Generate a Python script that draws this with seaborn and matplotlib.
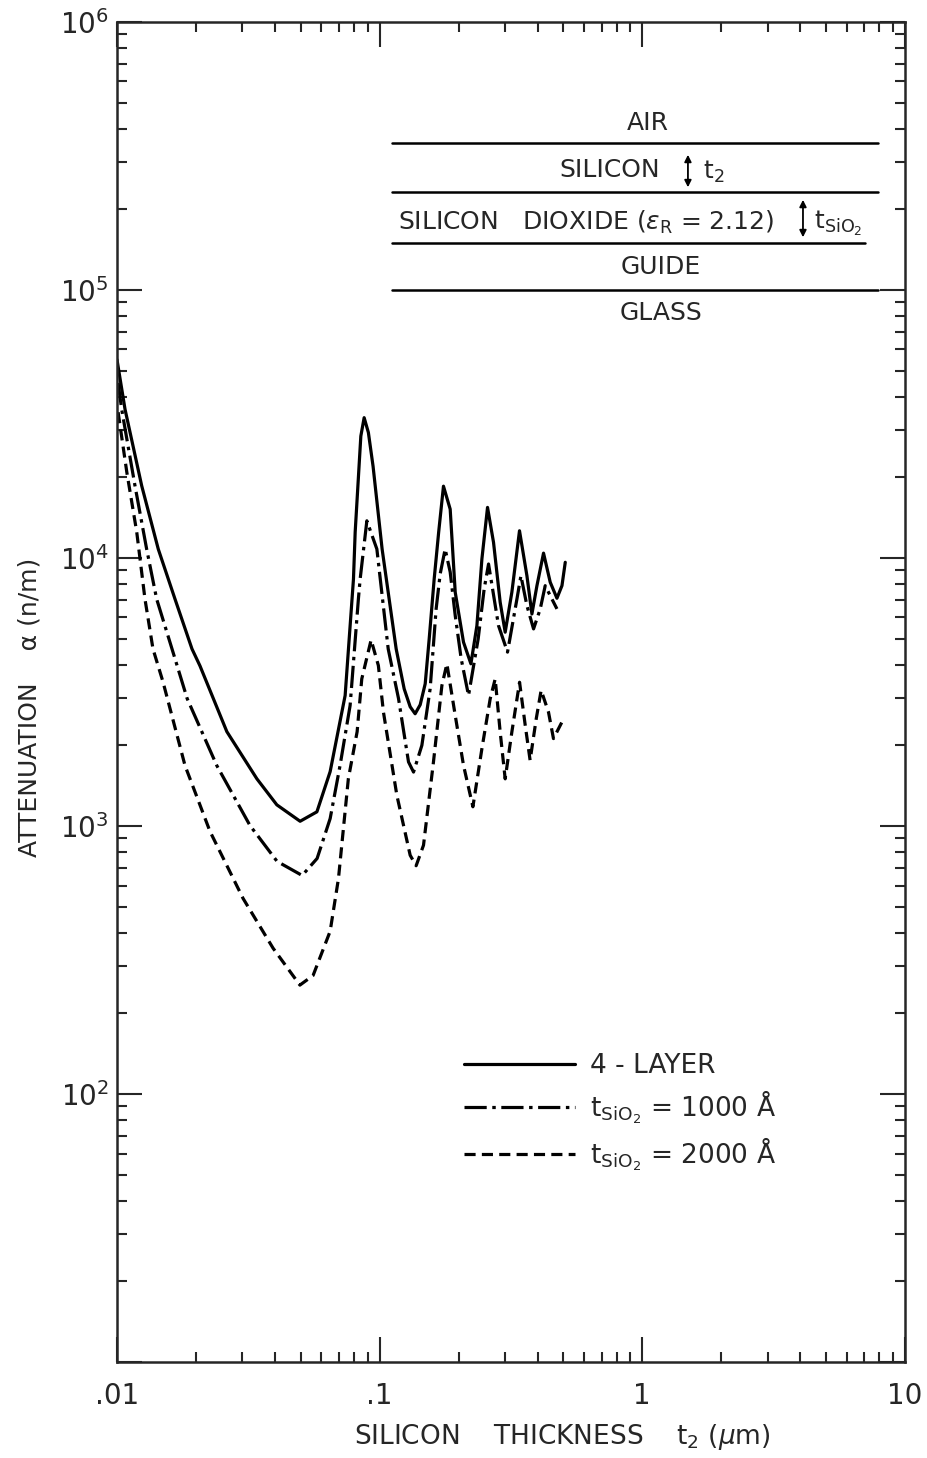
import pandas as pd
import matplotlib.pyplot as plt
import seaborn as sns
from matplotlib.lines import Line2D
from matplotlib.ticker import LogLocator, NullFormatter

# silicon thickness t2 (um) and attenuation alpha (n/m)
four_layer_x = [0.0100, 0.01073, 0.01242, 0.01436, 0.01663, 0.0193, 0.0207, 0.0262, 0.0341, 0.0406,
                0.0498, 0.0577, 0.0648, 0.0739, 0.0795, 0.0807, 0.0848, 0.0873, 0.0906, 0.0944,
                0.1022, 0.1087, 0.1156, 0.124, 0.1307, 0.1365, 0.1427, 0.1491, 0.1544, 0.1613,
                0.1678, 0.175, 0.1856, 0.194, 0.2086, 0.2226, 0.2346, 0.2451, 0.2575, 0.2714,
                0.2877, 0.3006, 0.3187, 0.3408, 0.3637, 0.380, 0.3971, 0.4207, 0.4462, 0.4732,
                0.4945, 0.509]
four_layer_y = [55000, 35900, 18600, 10800, 7030, 4580, 3960, 2250, 1500, 1200,
                1042, 1130, 1596, 3070, 8350, 12500, 28500, 33400, 29400, 22000,
                10800, 7030, 4580, 3250, 2786, 2624, 2835, 3395, 4990, 8350,
                12500, 18540, 15220, 7450, 4853, 4030, 5597, 9915, 15450, 11440,
                6839, 5288, 7450, 12640, 8590, 6185, 7886, 10430, 8120, 7080,
                7886, 9640]

sio2_1000_x = [0.0101, 0.01042, 0.01171, 0.01297, 0.01416, 0.0162, 0.0185, 0.0240, 0.0321, 0.0407,
               0.0507, 0.0578, 0.0648, 0.0707, 0.0772, 0.0830, 0.0843, 0.0894, 0.0976, 0.1078,
               0.118, 0.1288, 0.1346, 0.1448, 0.1557, 0.1641, 0.170, 0.1776, 0.1856, 0.194,
               0.2044, 0.218, 0.2372, 0.250, 0.2598, 0.2835, 0.3068, 0.3332, 0.3451, 0.3637,
               0.3855, 0.4088, 0.4270, 0.4529, 0.4732]
sio2_1000_y = [45000, 35900, 18600, 10800, 7030, 4580, 2990, 1680, 1004, 738,
               654, 757, 1066, 1685, 2818, 7030, 8350, 13770, 10800, 4580,
               2990, 1735, 1590, 2000, 3250, 6460, 8716, 10800, 8870, 6100,
               4207, 3070, 4990, 7665, 9500, 5597, 4456, 7030, 8590, 6643,
               5440, 6460, 7886, 7030, 6460]

sio2_2000_x = [0.0101, 0.0109, 0.01189, 0.01278, 0.01371, 0.01497, 0.01816, 0.0226, 0.0302, 0.0393,
               0.0497, 0.0558, 0.0648, 0.0697, 0.0760, 0.0821, 0.0855, 0.0928, 0.0989, 0.1034,
               0.1163, 0.1307, 0.1377, 0.1469, 0.1603, 0.1726, 0.1803, 0.194, 0.2086, 0.2265,
               0.2451, 0.2636, 0.2754, 0.2877, 0.3006, 0.3187, 0.341, 0.3584, 0.374, 0.3947,
               0.412, 0.4395, 0.459, 0.494]
sio2_2000_y = [35000, 20900, 12500, 7030, 4580, 3450, 1680, 955, 537, 350,
               255, 277, 405, 637, 1500, 2250, 3540, 4950, 3970, 2660,
               1302, 778, 711, 848, 1735, 3345, 4030, 2586, 1685, 1180,
               1944, 2985, 3540, 2243, 1500, 2243, 3440, 2374, 1760, 2515,
               3210, 2660, 2120, 2440]

curve_names = ["4-LAYER", "1000", "2000"]
curve_labels = ["4 - LAYER",
                r"$\mathregular{t_{SiO_2}}$ = 1000 Å",
                r"$\mathregular{t_{SiO_2}}$ = 2000 Å"]

x_ticks = [0.01, 0.1, 1, 10]
x_tick_labels = [".01", ".1", "1", "10"]
y_ticks = [1e1, 1e2, 1e3, 1e4, 1e5, 1e6]
y_tick_labels = ["", r"$\mathregular{10^{2}}$", r"$\mathregular{10^{3}}$",
                 r"$\mathregular{10^{4}}$", r"$\mathregular{10^{5}}$", r"$\mathregular{10^{6}}$"]

df = pd.concat([
    pd.DataFrame({"t2": four_layer_x, "alpha": four_layer_y, "curve": "4-LAYER"}),
    pd.DataFrame({"t2": sio2_1000_x, "alpha": sio2_1000_y, "curve": "1000"}),
    pd.DataFrame({"t2": sio2_2000_x, "alpha": sio2_2000_y, "curve": "2000"}),
])

sns.set_style("ticks")
plt.rcParams["font.family"] = ["DejaVu Sans"]
plt.rcParams["mathtext.fontset"] = "dejavusans"
plt.rcParams["lines.scale_dashes"] = False

dash_styles = {"4-LAYER": "", "1000": (16, 4, 2.5, 4), "2000": (8, 4.5)}
lw = 2.3

fig = plt.figure(figsize=(9.27, 14.58), dpi=100)
ax = fig.add_axes([0.1262, 0.0658, 0.850, 0.9191])

sns.lineplot(data=df, x="t2", y="alpha", style="curve", style_order=curve_names,
             dashes=dash_styles, color="black", linewidth=lw, estimator=None,
             sort=False, legend=False, ax=ax)

ax.set_xscale("log")
ax.set_yscale("log")
ax.set_xlim(0.01, 10)
ax.set_ylim(10, 1e6)
ax.set_xticks(x_ticks)
ax.set_xticklabels(x_tick_labels)
ax.set_yticks(y_ticks)
ax.set_yticklabels(y_tick_labels)
ax.xaxis.set_minor_locator(LogLocator(base=10, subs=range(2, 10)))
ax.yaxis.set_minor_locator(LogLocator(base=10, subs=range(2, 10)))
ax.xaxis.set_minor_formatter(NullFormatter())
ax.yaxis.set_minor_formatter(NullFormatter())
ax.tick_params(which="both", direction="in", top=True, right=True, width=1.5, labelsize=20)
ax.tick_params(which="major", length=18)
ax.tick_params(which="minor", length=7)
ax.tick_params(axis="x", pad=14)
ax.tick_params(axis="y", pad=6)
for s in ax.spines.values():
    s.set_linewidth(1.8)
ax.set_xlabel("")
ax.set_ylabel("")

fig.text(562 / 927, 1 - 1437 / 1458, r"SILICON    THICKNESS    $\mathregular{t_2}$ ($\mu$m)",
         ha="center", va="center", fontsize=19)
fig.text(30 / 927, 1 - 707 / 1458, "ATTENUATION    α (n/m)", rotation=90,
         ha="center", va="center", fontsize=18)

# layer diagram
tr = ax.transAxes
for y, x1 in [(0.9095, 0.966), (0.8734, 0.966), (0.8353, 0.949), (0.800, 0.966)]:
    ax.plot([0.349, x1], [y, y], color="black", lw=1.8, transform=tr)
fs = 18
ax.text(0.674, 0.9246, "AIR", ha="center", va="center", fontsize=fs, transform=tr)
ax.text(0.689, 0.8896, "SILICON", ha="right", va="center", fontsize=fs, transform=tr)
ax.annotate("", xy=(0.7246, 0.8746), xytext=(0.7246, 0.903), xycoords=tr,
            arrowprops=dict(arrowstyle="<|-|>", color="black", lw=1.3, mutation_scale=10))
ax.text(0.744, 0.888, r"$\mathregular{t_2}$", ha="left", va="center", fontsize=fs, transform=tr)
ax.text(0.596, 0.8507, r"SILICON   DIOXIDE ($\epsilon_\mathregular{R}$ = 2.12)",
        ha="center", va="center", fontsize=fs, transform=tr)
ax.annotate("", xy=(0.8706, 0.8373), xytext=(0.8706, 0.8694), xycoords=tr,
            arrowprops=dict(arrowstyle="<|-|>", color="black", lw=1.3, mutation_scale=10))
ax.text(0.885, 0.850, r"$\mathregular{t_{SiO_2}}$", ha="left", va="center", fontsize=fs, transform=tr)
ax.text(0.690, 0.8172, "GUIDE", ha="center", va="center", fontsize=fs, transform=tr)
ax.text(0.690, 0.7828, "GLASS", ha="center", va="center", fontsize=fs, transform=tr)

handles = [Line2D([], [], color="black", lw=lw),
           Line2D([], [], color="black", lw=lw, dashes=dash_styles["1000"]),
           Line2D([], [], color="black", lw=lw, dashes=dash_styles["2000"])]
ax.legend(handles, curve_labels, loc="upper left", bbox_to_anchor=(0.41, 0.248),
          frameon=False, fontsize=19, handlelength=4.2, handletextpad=0.6, labelspacing=0.35)

fig.savefig("out.png", dpi=100)
